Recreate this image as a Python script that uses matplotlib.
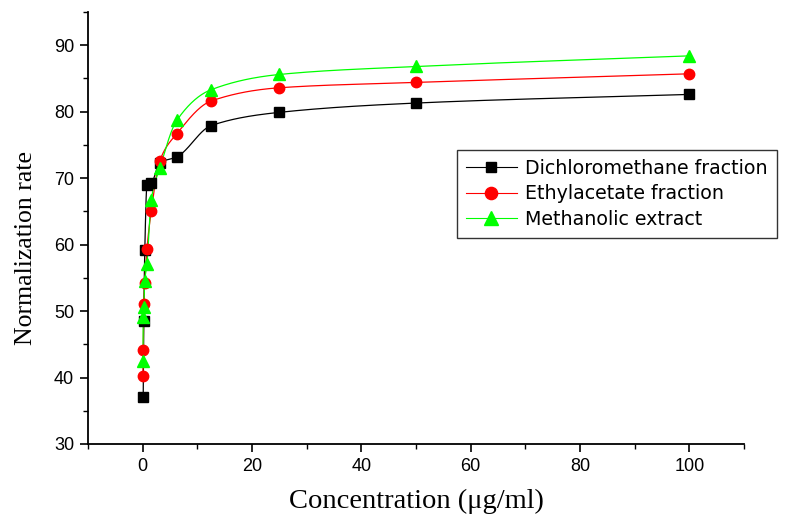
import numpy as np
import matplotlib
matplotlib.use("Agg")
import matplotlib.pyplot as plt
from matplotlib.ticker import MultipleLocator
from matplotlib.lines import Line2D

# Data
conc_12 = [0.0488, 0.0977, 0.195, 0.39, 0.78, 1.56, 3.125, 6.25, 12.5, 25, 50, 100]
conc_dcm = [0.0977, 0.195, 0.39, 0.78, 1.56, 3.125, 6.25, 12.5, 25, 50, 100]
dcm = [37.0, 48.5, 59.2, 68.9, 69.2, 72.3, 73.2, 77.9, 79.9, 81.3, 82.6]
ethyl = [40.3, 44.2, 51.0, 54.2, 59.3, 65.0, 72.6, 76.7, 81.6, 83.6, 84.4, 85.7]
meth = [42.5, 49.1, 50.6, 54.6, 57.1, 66.7, 71.5, 78.7, 83.3, 85.6, 86.8, 88.4]

labels = ["Dichloromethane fraction", "Ethylacetate fraction", "Methanolic extract"]
colors = ["#000000", "#FF0000", "#00FF00"]
markers = ["s", "o", "^"]
msizes = [6.6, 7.5, 8.2]
leg_msizes = [7.2, 8.8, 9.5]


def pchip(x, y, xn):
    x = np.asarray(x, float); y = np.asarray(y, float)
    h = np.diff(x); d = np.diff(y) / h
    n = len(x); m = np.zeros(n)
    for k in range(1, n - 1):
        if d[k - 1] * d[k] > 0:
            w1 = 2 * h[k] + h[k - 1]; w2 = h[k] + 2 * h[k - 1]
            m[k] = (w1 + w2) / (w1 / d[k - 1] + w2 / d[k])
    m[0] = d[0]; m[-1] = d[-1]
    idx = np.clip(np.searchsorted(x, xn) - 1, 0, n - 2)
    t = (xn - x[idx]) / h[idx]
    h00 = 2 * t**3 - 3 * t**2 + 1; h10 = t**3 - 2 * t**2 + t
    h01 = -2 * t**3 + 3 * t**2; h11 = t**3 - t**2
    return h00 * y[idx] + h10 * h[idx] * m[idx] + h01 * y[idx + 1] + h11 * h[idx] * m[idx + 1]


fig = plt.figure(figsize=(7.85, 5.16), dpi=100)
ax = fig.add_axes([88 / 785, 1 - 444 / 516, (744 - 88) / 785, (444 - 12) / 516])

series = [(conc_dcm, dcm), (conc_12, ethyl), (conc_12, meth)]
handles = []
for (xs, ys), lab, c, mk, ms, lms in zip(series, labels, colors, markers, msizes, leg_msizes):
    xs_a = np.asarray(xs)
    xn = np.concatenate([np.linspace(xs_a[i], xs_a[i + 1], 40, endpoint=False)
                         for i in range(len(xs_a) - 1)] + [xs_a[-1:]])
    ax.plot(xn, pchip(xs, ys, xn), color=c, lw=0.9, zorder=2)
    ax.plot(xs, ys, linestyle="none", marker=mk, color=c, markersize=ms, zorder=3)
    handles.append(Line2D([], [], color=c, lw=0.8, marker=mk, markersize=lms, label=lab))

ax.set_xlim(-10, 110)
ax.set_ylim(30, 95)
ax.xaxis.set_major_locator(MultipleLocator(20))
ax.xaxis.set_minor_locator(MultipleLocator(10))
ax.yaxis.set_major_locator(MultipleLocator(10))
ax.yaxis.set_minor_locator(MultipleLocator(5))
for s in ["top", "right"]:
    ax.spines[s].set_visible(False)
for s in ["left", "bottom"]:
    ax.spines[s].set_linewidth(1.3)
ax.tick_params(which="major", direction="out", length=6, width=1.2,
               labelsize=13, labelfontfamily="Liberation Sans", pad=4)
ax.tick_params(which="minor", direction="out", length=3.5, width=1.0)

ax.set_xlabel("Concentration (\u03bcg/ml)", family="Liberation Serif", fontsize=20.5, labelpad=10)
ax.set_ylabel("Normalization rate", family="Liberation Serif", fontsize=18.5)
ax.yaxis.set_label_coords((37 - 88) / 656, 1 - (248 - 12) / 432)

leg = fig.legend(handles=handles, loc="upper left", bbox_to_anchor=(457 / 785, 1 - 150 / 516),
                 borderaxespad=0, prop={"family": "DejaVu Sans", "size": 13.7}, frameon=True,
                 fancybox=False, edgecolor="black", handlelength=2.68,
                 handletextpad=0.44, borderpad=0.47, labelspacing=0.34)
leg.get_frame().set_linewidth(1.0)

fig.savefig("out.png", dpi=100)
